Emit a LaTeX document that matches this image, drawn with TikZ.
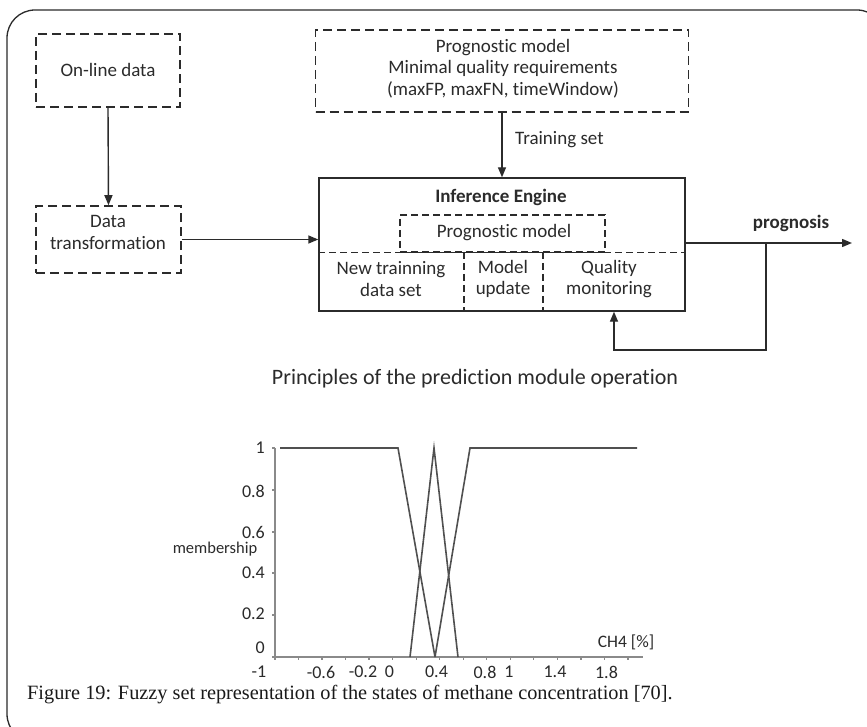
\documentclass[tikz,border=0pt]{standalone}
\usepackage{fontspec}
\setmainfont{Carlito}[Ligatures=NoCommon]
\newfontfamily\capfont{Liberation Serif}
\usetikzlibrary{arrows.meta}
\definecolor{ink}{HTML}{2B2B2B}
\definecolor{curve}{HTML}{505050}
\definecolor{axisc}{HTML}{8A8A8A}
\begin{document}
\begin{tikzpicture}[x=1pt,y=-1pt,
  every node/.style={text=ink, inner sep=0pt},
  dbox/.style={draw=ink, line width=1.6pt, dash pattern=on 9pt off 5pt},
  ibox/.style={draw=ink, line width=1.3pt, dash pattern=on 7pt off 4pt},
  conn/.style={draw=ink, line width=1.4pt},
  arr/.style={conn, -{Triangle[length=10pt,width=8pt]}},
  lbl/.style={font=\fontsize{19}{21.5}\selectfont, align=center},
  blbl/.style={font=\fontsize{19}{21.5}\selectfont\bfseries, align=center},
  tick/.style={font=\fontsize{18}{20}\selectfont},
  fuzzy/.style={draw=curve, line width=1.6pt, line join=miter},
  axisl/.style={draw=axisc, line width=1.3pt}
]
\useasboundingbox (0,0) rectangle (867,727);
\fill[white] (0,0) rectangle (867,727);
% outer frame
\draw[draw=ink, line width=1.3pt, rounded corners=28pt] (7,10) rectangle (885,742);

% ---- block diagram ----
\node[dbox, minimum width=144pt, minimum height=73pt] (online) at (108,70.5) {};
\node[lbl] (onlinet) at (108,70) {On-line data};

\node[dbox, minimum width=145pt, minimum height=67pt] (dt) at (108.5,239.5) {};
\node[lbl] (dtt) at (108,232.5) {Data\\transformation};

\node[dbox, minimum width=373pt, minimum height=82pt] (pm) at (502,71) {};
\node[lbl] (pmt) at (503,68.5) {Prognostic model\\Minimal quality requirements\\(maxFP, maxFN, timeWindow)};

\node[draw=ink, line width=1.4pt, minimum width=366pt, minimum height=133pt] (engine) at (502,244.5) {};
\node[blbl] (iet) at (501,197) {Inference Engine};
\node[ibox, minimum width=205pt, minimum height=37pt] (innerpm) at (502.5,233.5) {};
\node[lbl] (innerpmt) at (504,233) {Prognostic model};
\draw[ibox] (engine.west |- innerpm.south) -- (engine.east |- innerpm.south);
\coordinate (c1) at (464,252);
\coordinate (c2) at (543,252);
\draw[ibox] (c1) -- (c1 |- engine.south);
\draw[ibox] (c2) -- (c2 |- engine.south);
\node[lbl] (cell1) at (391,279) {New trainning\\data set};
\node[lbl] (cell2) at (503,279) {Model\\update};
\node[lbl] (cell3) at (609,279) {Quality\\monitoring};

% connectors
\draw[arr] (online.south) -- (dt.north);
\draw[arr] (dt.east) -- (dt.east -| engine.west);
\draw[arr] (pm.south) -- (pm.south |- engine.north);
\node[lbl, anchor=west] (trainset) at (515,140) {Training set};
\coordinate (out) at (852,243);
\coordinate (branch) at (766,243);
\coordinate (fb) at (614,350);
\draw[arr] (engine.east |- out) -- (out);
\draw[arr] (branch) |- (fb) -- (fb |- engine.south);
\node[blbl] (prog) at (791,223) {prognosis};

\node[font=\fontsize{22}{26}\selectfont] (title) at (475,379) {Principles of the prediction module operation};

% ---- membership plot ----
\coordinate (o) at (275,657);
\draw[axisl] (275,448) -- (o) -- (643,657);
\foreach \yy in {448,490,532,573,615,657} \draw[axisl] (272,\yy) -- (275,\yy);
\foreach \k in {0,...,15} \draw[axisl] (275+\k*23.53,657) -- (275+\k*23.53,660);
\foreach \lab/\yy in {1/448,0.8/491,0.6/532,0.4/573,0.2/614,0/648}
  \node[tick, anchor=east] at (265,\yy) {\lab};
\foreach \lab/\xx in {-1/259,-0.6/321,-0.2/363,0/389.5,0.4/436.5,0.8/485,1/509,1.4/555,1.8/606.5}
  \node[tick] at (\xx,672) {\lab};
\node[font=\fontsize{16.5}{19}\selectfont] (memb) at (215,549) {membership};
\node[font=\fontsize{17.5}{20}\selectfont] (ch4) at (626,642) {CH4 [\%]};

\draw[fuzzy] (280,448) -- (398,448) -- (435,657);
\draw[fuzzy] (410,657) -- (434,448) -- (458,657);
\draw[fuzzy] (435,657) -- (470,448) -- (637,448);

% caption
\node[anchor=west, font=\capfont\fontsize{20.3}{24}\selectfont, text=black!90] (cap) at (27,695)
  {Figure 19: Fuzzy set representation of the states of methane concentration [70].};
\end{tikzpicture}
\end{document}
